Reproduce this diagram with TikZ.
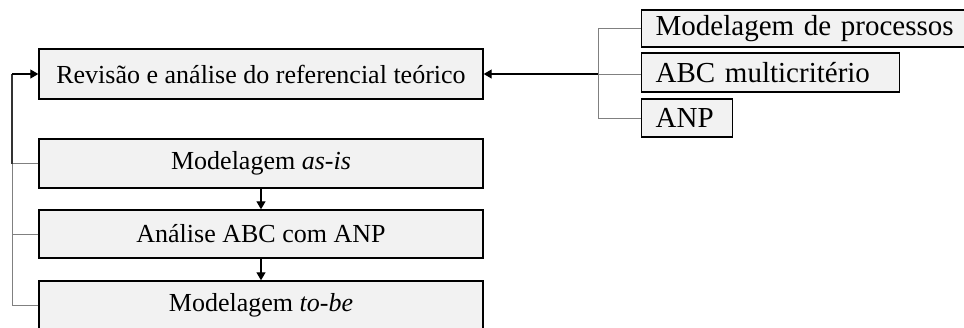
\documentclass[tikz,border=0pt]{standalone}
\usepackage{fontspec}
\setmainfont{Liberation Serif}
\usetikzlibrary{arrows.meta}
\definecolor{boxfill}{HTML}{F2F2F2}
\definecolor{branch}{HTML}{808080}
\tikzset{
  stagebox/.style={draw=black, line width=1.4bp, fill=boxfill, inner sep=0pt,
    minimum width=444bp, font=\fontsize{26bp}{30bp}\selectfont},
  topicbox/.style={draw=black, line width=1.4bp, fill=boxfill, inner xsep=14bp, inner ysep=0pt,
    anchor=west, align=left, font=\fontsize{29bp}{32bp}\selectfont},
  branchline/.style={draw=branch, line width=1bp},
  mainarrow/.style={draw=black, line width=1.2bp, -{Triangle[length=8bp,width=9bp]}},
}
\begin{document}
\begin{tikzpicture}[x=1bp,y=-1bp]
\useasboundingbox (0,0) rectangle (964,327);
% stage boxes
\node[stagebox, minimum height=50bp] (top) at (261,74) {Revisão e análise do referencial teórico};
\node[stagebox, minimum height=49bp] (asis) at (261,163.5) {Modelagem \textit{as-is}};
\node[stagebox, minimum height=48bp] (anal) at (261,234) {Análise ABC com ANP};
\node[stagebox, minimum height=48bp] (tobe) at (261,305) {Modelagem \textit{to-be}};
% topic boxes
\node[topicbox, minimum height=37bp, text width=320bp] (mp) at (641,28.5) {Modelagem de processos};
\node[topicbox, minimum height=39bp, text width=230bp] (abc) at (641,72.5) {ABC multicritério};
\node[topicbox, minimum height=38bp, text width=63bp] (anp) at (641,118) {ANP};
% right bracket
\coordinate (rj) at (598,74);
\coordinate (rt) at (598,28.5);
\coordinate (rb) at (598,118);
\draw[branchline] (mp.west) -- (rt) -- (rb) -- (anp.west);
\draw[branchline] (abc.west |- rj) -- (rj);
\draw[mainarrow] (rj) -- (top.east);
% vertical flow
\draw[mainarrow] (asis.south) -- (anal.north);
\draw[mainarrow] (anal.south) -- (tobe.north);
% left loop
\coordinate (lj) at (12,74);
\coordinate (l1) at (12,163.5);
\coordinate (l2) at (12,234);
\coordinate (l3) at (12,305);
\draw[branchline] (asis.west) -- (l1);
\draw[branchline] (anal.west) -- (l2);
\draw[branchline] (tobe.west) -- (l3) -- (l1);
\draw[draw=black!80, line width=1.2bp] (l1) -- (lj);
\draw[mainarrow] (lj) -- (top.west);
\end{tikzpicture}
\end{document}
